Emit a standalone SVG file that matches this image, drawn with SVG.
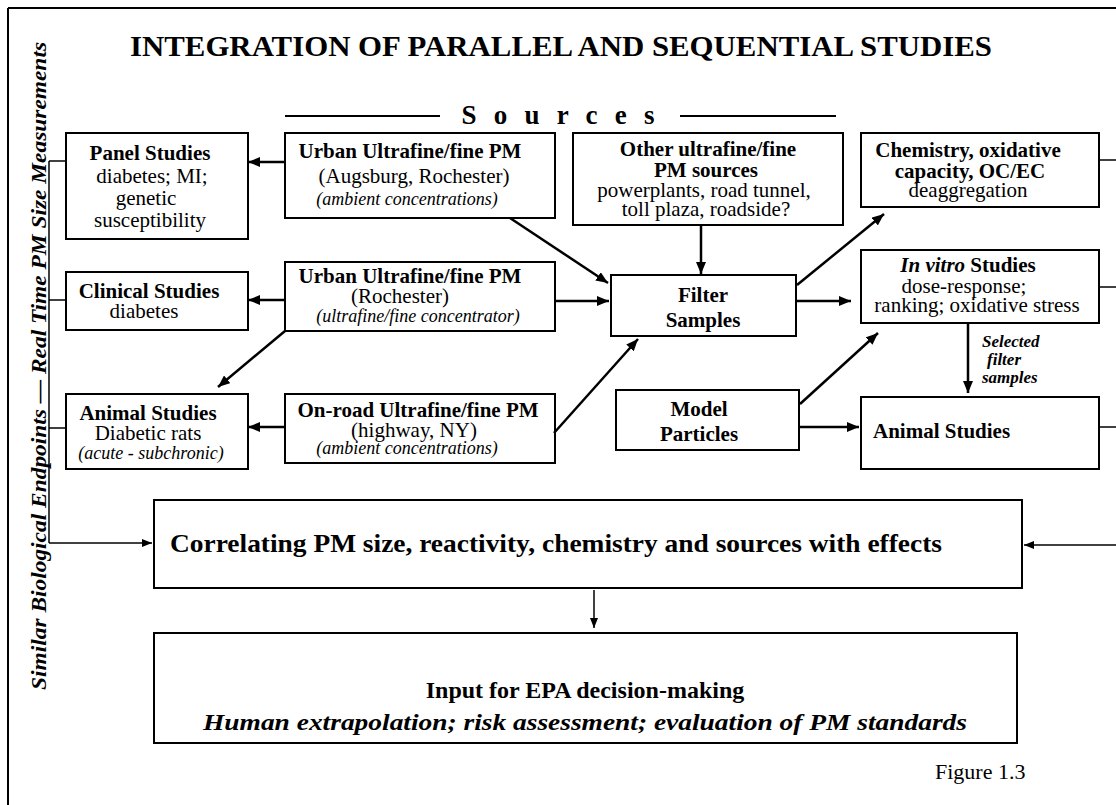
<svg xmlns="http://www.w3.org/2000/svg" width="1116" height="805" viewBox="0 0 1116 805">
<defs>
<style>
.box{fill:#fff;stroke:#000;stroke-width:2}
.t{font-family:"Liberation Serif","Times New Roman",serif;fill:#000}
.b{font-weight:bold;font-size:21px}
.r{font-size:21px}
.i{font-style:italic;font-size:18px}
.bi{font-style:italic;font-weight:bold}
.m{text-anchor:middle}
.ln{stroke:#000;stroke-width:2.5;fill:none}
.th{stroke:#000;stroke-width:1.5;fill:none}
.fr{stroke:#000;stroke-width:2;fill:none}
</style>
<marker id="ah" viewBox="0 0 12 10" refX="12" refY="5" markerWidth="12" markerHeight="10" orient="auto" markerUnits="userSpaceOnUse"><path d="M0,0 L12,5 L0,10 z" fill="#000"/></marker>
<marker id="as" viewBox="0 0 10 8" refX="10" refY="4" markerWidth="10" markerHeight="8" orient="auto" markerUnits="userSpaceOnUse"><path d="M0,0 L10,4 L0,8 z" fill="#000"/></marker>
</defs>
<rect x="0" y="0" width="1116" height="805" fill="#fff"/>
<g id="frame">
<line class="fr" x1="8" y1="8" x2="1116" y2="8"/>
<line class="fr" x1="8" y1="8" x2="8" y2="805"/>
</g>
<g id="title">
<text class="t m" x="561" y="56" font-size="30" font-weight="bold" textLength="862" lengthAdjust="spacingAndGlyphs">INTEGRATION OF PARALLEL AND SEQUENTIAL STUDIES</text>
</g>
<g id="sources-label">
<line class="fr" x1="285" y1="116" x2="440" y2="116"/>
<line class="fr" x1="680" y1="116" x2="836" y2="116"/>
<text class="t m" x="558" y="124" font-size="27" font-weight="bold" textLength="193" lengthAdjust="spacing">S o u r c e s</text>
</g>
<g id="side-label">
<text class="t bi" transform="translate(46,690) rotate(-90)" x="0" y="0" font-size="21" textLength="648" lengthAdjust="spacingAndGlyphs">Similar Biological Endpoints — Real Time PM Size Measurements</text>
</g>
<g id="panel">
<rect class="box" x="66" y="133" width="182" height="106"/>
<text class="t b m" x="150" y="160">Panel Studies</text>
<text class="t r m" x="152" y="183">diabetes; MI;</text>
<text class="t r m" x="146" y="205">genetic</text>
<text class="t r m" x="150" y="227">susceptibility</text>
</g>
<g id="urban1">
<rect class="box" x="285" y="133" width="270" height="85"/>
<text class="t b m" x="410" y="158">Urban Ultrafine/fine PM</text>
<text class="t r m" x="414" y="183">(Augsburg, Rochester)</text>
<text class="t i m" x="407" y="205">(ambient concentrations)</text>
</g>
<g id="other">
<rect class="box" x="573" y="133" width="270" height="92"/>
<text class="t b m" x="708" y="156">Other ultrafine/fine</text>
<text class="t b m" x="706" y="177">PM sources</text>
<text class="t r m" x="704" y="197">powerplants, road tunnel,</text>
<text class="t r m" x="706" y="216">toll plaza, roadside?</text>
</g>
<g id="chem">
<rect class="box" x="861" y="133" width="238" height="74"/>
<text class="t b m" x="968" y="157">Chemistry, oxidative</text>
<text class="t b m" x="970" y="178">capacity, OC/EC</text>
<text class="t r m" x="968" y="197">deaggregation</text>
</g>
<g id="clinical">
<rect class="box" x="66" y="272" width="182" height="58"/>
<text class="t b m" x="149" y="298">Clinical Studies</text>
<text class="t r m" x="144" y="318">diabetes</text>
</g>
<g id="urban2">
<rect class="box" x="285" y="262" width="270" height="69"/>
<text class="t b m" x="410" y="283">Urban Ultrafine/fine PM</text>
<text class="t r m" x="400" y="303">(Rochester)</text>
<text class="t i m" x="418" y="322">(ultrafine/fine concentrator)</text>
</g>
<g id="filter">
<rect class="box" x="611" y="275" width="185" height="61"/>
<text class="t b m" x="703" y="302">Filter</text>
<text class="t b m" x="703" y="327">Samples</text>
</g>
<g id="invitro">
<rect class="box" x="861" y="250" width="238" height="73"/>
<text class="t b m" x="968" y="272"><tspan font-style="italic">In vitro</tspan> Studies</text>
<text class="t r m" x="964" y="293">dose-response;</text>
<text class="t r m" x="977" y="312">ranking; oxidative stress</text>
</g>
<g id="animal-left">
<rect class="box" x="66" y="394" width="182" height="75"/>
<text class="t b m" x="148" y="420">Animal Studies</text>
<text class="t r m" x="148" y="440">Diabetic rats</text>
<text class="t i m" x="151" y="459">(acute - subchronic)</text>
</g>
<g id="onroad">
<rect class="box" x="285" y="394" width="270" height="69"/>
<text class="t b m" x="418" y="417">On-road Ultrafine/fine PM</text>
<text class="t r m" x="414" y="437">(highway, NY)</text>
<text class="t i m" x="407" y="454">(ambient concentrations)</text>
</g>
<g id="model">
<rect class="box" x="616" y="390" width="183" height="60"/>
<text class="t b m" x="699" y="416">Model</text>
<text class="t b m" x="699" y="441">Particles</text>
</g>
<g id="animal-right">
<rect class="box" x="861" y="397" width="238" height="72"/>
<text class="t b" x="873" y="438">Animal Studies</text>
</g>
<g id="selected-label">
<text class="t bi" font-size="17" x="982" y="347">Selected</text>
<text class="t bi" font-size="17" x="987" y="365">filter</text>
<text class="t bi" font-size="17" x="982" y="383">samples</text>
</g>
<g id="correlating">
<rect class="box" x="154" y="500" width="868" height="88"/>
<text class="t" x="170" y="552" font-size="26" font-weight="bold" textLength="772" lengthAdjust="spacingAndGlyphs">Correlating PM size, reactivity, chemistry and sources with effects</text>
</g>
<g id="input">
<rect class="box" x="154" y="633" width="863" height="110"/>
<text class="t m" x="585" y="698" font-size="24" font-weight="bold">Input for EPA decision-making</text>
<text class="t bi m" x="585" y="730" font-size="23" textLength="764" lengthAdjust="spacingAndGlyphs">Human extrapolation; risk assessment; evaluation of PM standards</text>
</g>
<g id="figure-label">
<text class="t" x="935" y="779" font-size="22">Figure 1.3</text>
</g>
<g id="connectors">
<line class="ln" x1="285" y1="162" x2="248" y2="162" marker-end="url(#ah)"/>
<line class="ln" x1="285" y1="300" x2="248" y2="300" marker-end="url(#ah)"/>
<line class="ln" x1="285" y1="427" x2="248" y2="427" marker-end="url(#ah)"/>
<line class="ln" x1="285" y1="331" x2="218" y2="387" marker-end="url(#ah)"/>
<line class="ln" x1="510" y1="218" x2="608" y2="283" marker-end="url(#ah)"/>
<line class="ln" x1="701" y1="225" x2="701" y2="274" marker-end="url(#ah)"/>
<line class="ln" x1="555" y1="301" x2="609" y2="301" marker-end="url(#ah)"/>
<line class="ln" x1="554" y1="433" x2="638" y2="339" marker-end="url(#ah)"/>
<line class="ln" x1="796" y1="301" x2="851" y2="301" marker-end="url(#ah)"/>
<line class="ln" x1="797" y1="285" x2="884" y2="214" marker-end="url(#ah)"/>
<line class="ln" x1="800" y1="404" x2="878" y2="333" marker-end="url(#ah)"/>
<line class="ln" x1="799" y1="427" x2="859" y2="427" marker-end="url(#ah)"/>
<line class="ln" x1="968" y1="323" x2="968" y2="393" marker-end="url(#ah)"/>
<line class="th" x1="49" y1="161" x2="49" y2="543"/>
<line class="th" x1="49" y1="161" x2="66" y2="161"/>
<line class="th" x1="49" y1="300" x2="66" y2="300"/>
<line class="th" x1="49" y1="428" x2="66" y2="428"/>
<line class="th" x1="49" y1="543" x2="152" y2="543" marker-end="url(#as)"/>
<line class="th" x1="1099" y1="160" x2="1116" y2="160"/>
<line class="th" x1="1099" y1="287" x2="1116" y2="287"/>
<line class="th" x1="1099" y1="427" x2="1116" y2="427"/>
<line class="th" x1="1116" y1="545" x2="1024" y2="545" marker-end="url(#as)"/>
<line class="th" x1="594" y1="590" x2="594" y2="628" marker-end="url(#as)"/>
</g>
</svg>
